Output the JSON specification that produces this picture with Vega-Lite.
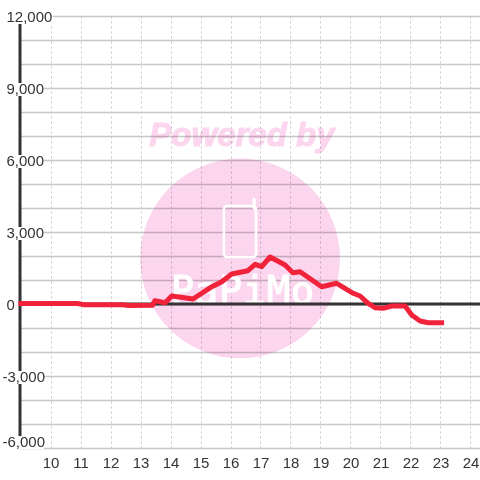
{
"$schema":"https://vega.github.io/schema/vega-lite/v6.json",
"width":460,"height":432,"autosize":"none","padding":{"left":20,"top":16,"right":0,"bottom":32},"background":"white",
"config":{"view":{"stroke":null},"font":"Liberation Sans"},
"resolve":{"axis":{"x":"independent","y":"independent"}},
"datasets":{
"series":[{"h":8.93,"v":20},{"h":10.9,"v":20},{"h":11.1,"v":-27},{"h":12.4,"v":-33},{"h":12.6,"v":-60},{"h":13.4,"v":-53},{"h":13.48,"v":137},{"h":13.82,"v":54},{"h":14.04,"v":333},{"h":14.75,"v":208},{"h":15.38,"v":721},{"h":15.71,"v":929},{"h":16.04,"v":1250},{"h":16.58,"v":1387},{"h":16.82,"v":1654},{"h":17.04,"v":1554},{"h":17.32,"v":1958},{"h":17.82,"v":1625},{"h":18.08,"v":1304},{"h":18.32,"v":1346},{"h":19.04,"v":721},{"h":19.54,"v":863},{"h":20.09,"v":446},{"h":20.32,"v":333},{"h":20.59,"v":29},{"h":20.82,"v":-153},{"h":21.09,"v":-180},{"h":21.37,"v":-83},{"h":21.82,"v":-83},{"h":22.04,"v":-460},{"h":22.32,"v":-707},{"h":22.59,"v":-780},{"h":23.12,"v":-780}],
"letters":[{"c":"P","h":14.4},{"c":"a","h":15.2},{"c":"P","h":16.0},{"c":"i","h":16.8},{"c":"M","h":17.6},{"c":"o","h":18.4}],
"gaps":[{"a":8.45,"b":10.08,"lo":11667,"hi":12292},{"a":8.45,"b":9.78,"lo":8667,"hi":9208},{"a":8.45,"b":9.78,"lo":5667,"hi":6208},{"a":8.45,"b":9.78,"lo":2667,"hi":3208},{"a":8.3,"b":9.78,"lo":-3333,"hi":-2792},{"a":8.3,"b":9.78,"lo":-6040,"hi":-5500}]
},
"layer":[
{"data":{"values":[{"h":16.32,"v":1896}]},
 "mark":{"type":"point","shape":"circle","filled":true,"size":39900,"color":"#fbd6ee","opacity":1,"blend":"multiply"},
 "encoding":{
  "x":{"field":"h","type":"quantitative","scale":{"domain":[8.983,24.317],"nice":false,"zero":false},
   "axis":{"orient":"bottom","values":[10,11,12,13,14,15,16,17,18,19,20,21,22,23,24],"title":null,"domain":false,"ticks":false,"grid":true,"gridColor":"#c8c8c8","gridDash":[2,3],"gridWidth":1,"labelFont":"Liberation Sans","labelFontSize":15,"labelColor":"#333333","labelPadding":7,"labelFlush":false,"labelOverlap":false,"format":"d"}},
  "y":{"field":"v","type":"quantitative","scale":{"domain":[-6000,12000],"nice":false,"zero":false},
   "axis":{"orient":"left","values":[-6000,-5000,-4000,-3000,-2000,-1000,0,1000,2000,3000,4000,5000,6000,7000,8000,9000,10000,11000,12000],"title":null,"domain":false,"ticks":false,"labels":false,"grid":true,"gridColor":"#c8c8c8","gridWidth":1.5,"zindex":0}}}},
{"data":{"values":[{"t":"Powered by","h":16.38,"v":6583}]},
 "mark":{"type":"text","font":"Liberation Sans","fontWeight":"bold","fontStyle":"italic","fontSize":33,"color":"#fbd6ee","stroke":"#fbd6ee","strokeWidth":1,"blend":"multiply","align":"center","baseline":"alphabetic"},
 "encoding":{"x":{"field":"h","type":"quantitative","axis":null},"y":{"field":"v","type":"quantitative","axis":null},"text":{"field":"t"}}},
{"data":{"values":[{"a":15.78,"b":16.85,"lo":1958,"hi":4083}]},
 "mark":{"type":"rect","fill":null,"fillOpacity":0,"stroke":"white","strokeWidth":2.5,"cornerRadius":3},
 "encoding":{"x":{"field":"a","type":"quantitative","axis":null},"x2":{"field":"b"},"y":{"field":"lo","type":"quantitative","axis":null},"y2":{"field":"hi"}}},
{"data":{"values":[{"h":16.79,"lo":4000,"hi":4375}]},
 "mark":{"type":"rule","stroke":"white","strokeWidth":3,"strokeCap":"round"},
 "encoding":{"x":{"field":"h","type":"quantitative","axis":null},"y":{"field":"lo","type":"quantitative","axis":null},"y2":{"field":"hi"}}},
{"data":{"name":"letters"},
 "mark":{"type":"text","font":"DejaVu Sans Mono","fontSize":39,"fill":"white","stroke":"white","strokeWidth":1,"align":"center","baseline":"alphabetic"},
 "encoding":{"x":{"field":"h","type":"quantitative","axis":null},"y":{"datum":0,"type":"quantitative","axis":null},"text":{"field":"c"}}},
{"data":{"values":[{"h":8.983,"a":-6000,"b":12000}]},
 "mark":{"type":"rule","stroke":"#333333","strokeWidth":3},
 "encoding":{"x":{"field":"h","type":"quantitative","axis":null},"y":{"field":"a","type":"quantitative","axis":null},"y2":{"field":"b"}}},
{"data":{"name":"gaps"},
 "mark":{"type":"rect","fill":"white","clip":false},
 "encoding":{"x":{"field":"a","type":"quantitative","axis":null},"x2":{"field":"b"},"y":{"field":"lo","type":"quantitative","axis":null},"y2":{"field":"hi"}}},
{"data":{"values":[{"a":8.983,"b":24.317,"v":0}]},
 "mark":{"type":"rule","stroke":"#333333","strokeWidth":3},
 "encoding":{"x":{"field":"a","type":"quantitative","axis":null},"x2":{"field":"b"},"y":{"field":"v","type":"quantitative",
  "axis":{"orient":"left","values":[-6000,-3000,0,3000,6000,9000,12000],"title":null,"domain":false,"ticks":false,"grid":false,"zindex":1,"labelExpr":"datum.value<0 ? '-'+format(-datum.value,',.0f') : format(datum.value,',.0f')","labelFont":"Liberation Sans","labelFontSize":15,"labelColor":"#333333","labelAlign":"left","labelPadding":{"condition":{"test":"datum.value<0","value":18},"value":14},"labelOffset":{"condition":{"test":"datum.value==-6000","value":-7},"value":0},"labelFlush":false,"labelOverlap":false,"labelBound":false}}}},
{"data":{"name":"series"},
 "mark":{"type":"line","stroke":"#f0233a","strokeWidth":5,"strokeJoin":"round","clip":false},
 "encoding":{"x":{"field":"h","type":"quantitative","axis":null},"y":{"field":"v","type":"quantitative","axis":null}}}
]
}
